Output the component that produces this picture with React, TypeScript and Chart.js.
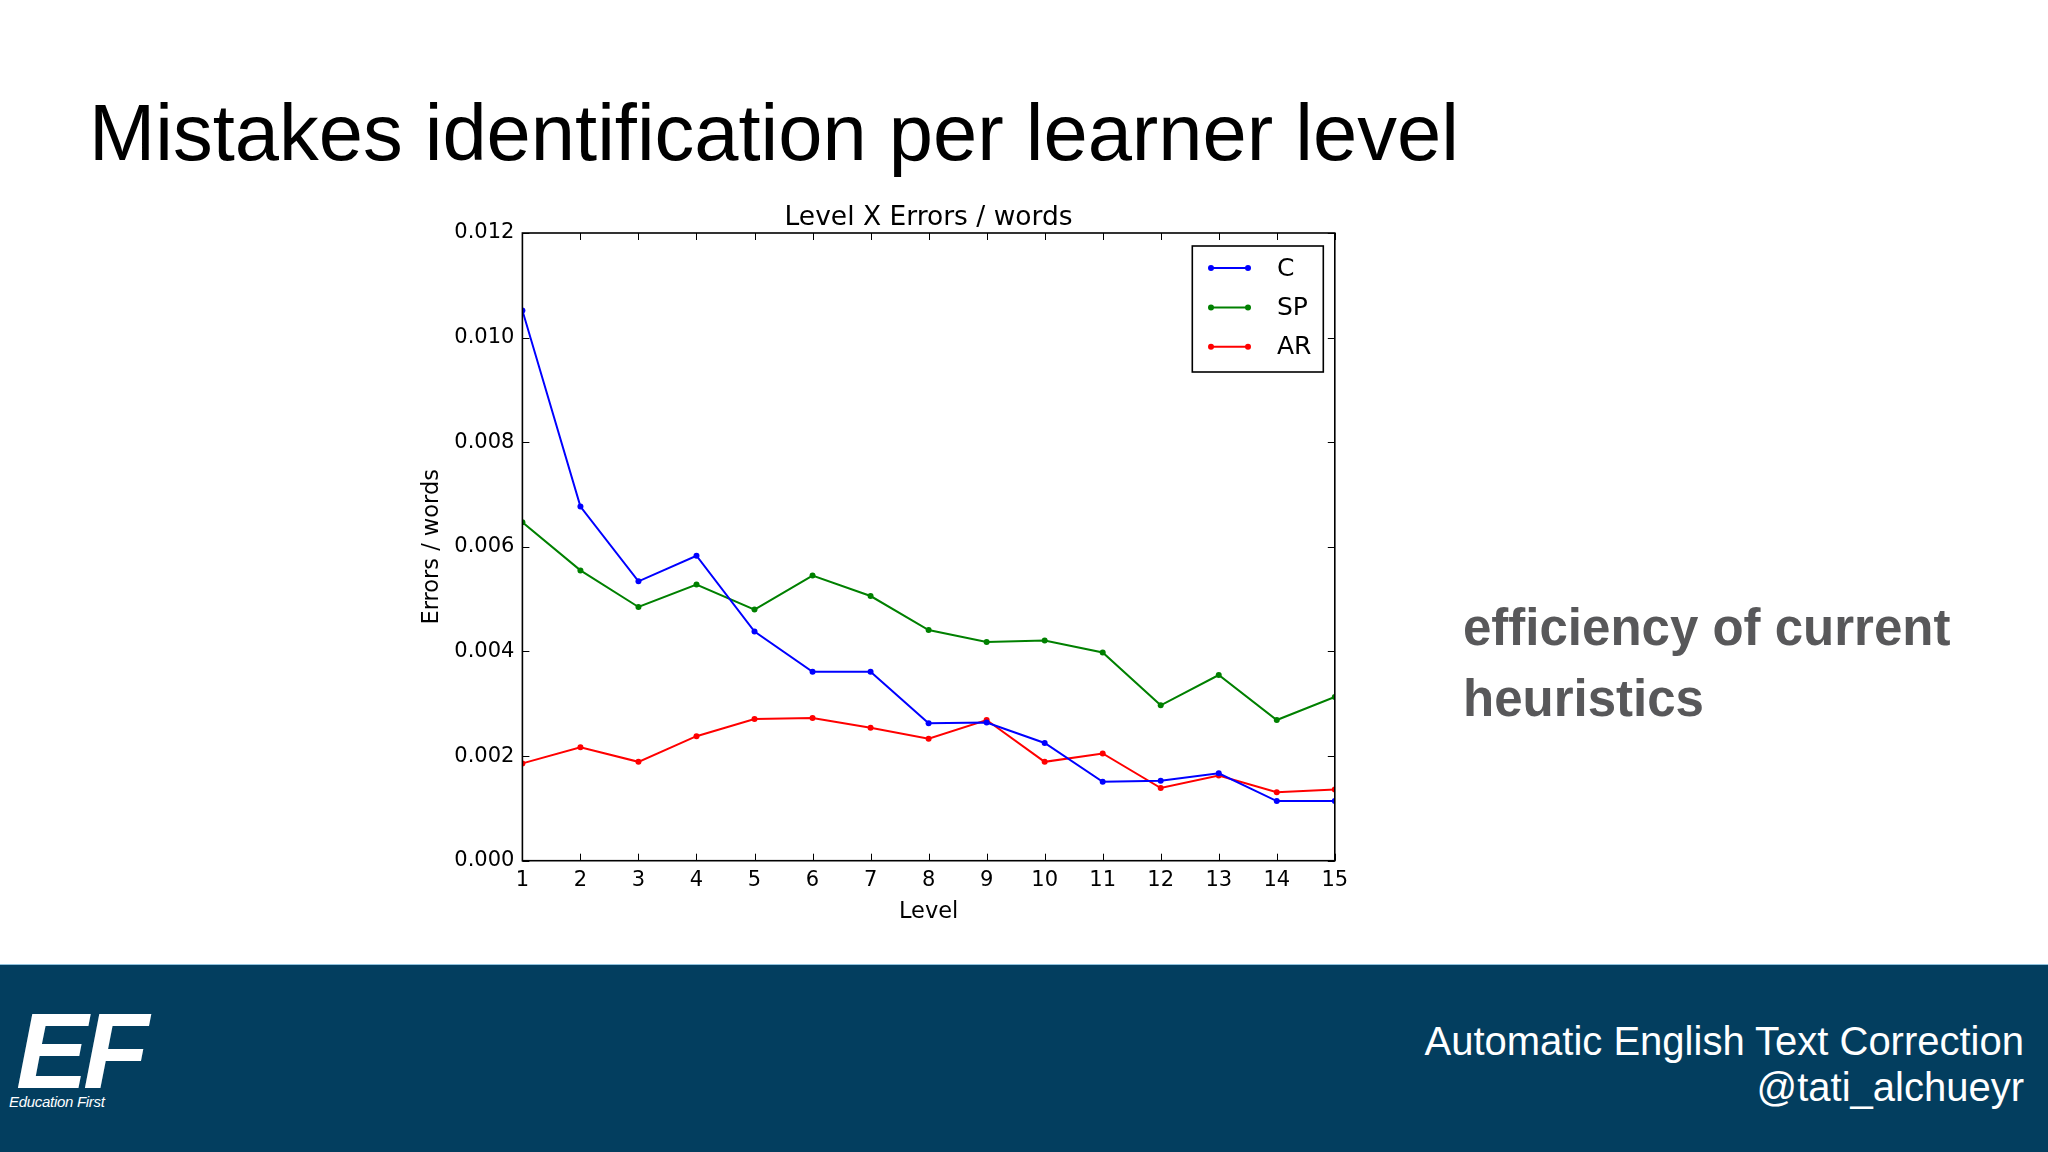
import React, { useEffect, useRef } from "react";
import { Chart, registerables } from "chart.js";

Chart.register(...registerables);

// ---- Data ----
const levels = ["1", "2", "3", "4", "5", "6", "7", "8", "9", "10", "11", "12", "13", "14", "15"];
const cValues = [0.01052, 0.00677, 0.00534, 0.00583, 0.00438, 0.00361, 0.00361, 0.00263, 0.00264, 0.00225, 0.00151, 0.00153, 0.00167, 0.00114, 0.00114];
const spValues = [0.00647, 0.00555, 0.00485, 0.00528, 0.0048, 0.00545, 0.00506, 0.00441, 0.00418, 0.00421, 0.00398, 0.00297, 0.00355, 0.00269, 0.00313];
const arValues = [0.00186, 0.00217, 0.00189, 0.00238, 0.00271, 0.00273, 0.00254, 0.00233, 0.00269, 0.00189, 0.00205, 0.00139, 0.00163, 0.00131, 0.00136];
const seriesNames = ["C", "SP", "AR"];
const seriesColors = ["#0000ff", "#008000", "#ff0000"];
const yMin = 0;
const yMax = 0.012;
const yStep = 0.002;

const chartTitle = "Level X Errors / words";
const xTitle = "Level";
const yTitle = "Errors / words";

const MPL_FONT = '"DejaVu Sans", "Liberation Sans", sans-serif';

const frameAndTicks = {
  id: "frameAndTicks",
  afterDatasetsDraw(chart: any) {
    const { ctx, chartArea } = chart;
    const { left, right, top, bottom } = chartArea;
    const xs = chart.scales.x;
    const ys = chart.scales.y;
    const len = 7;
    ctx.save();
    ctx.strokeStyle = "#000";
    ctx.lineWidth = 1;
    ctx.beginPath();
    xs.ticks.forEach((_t: any, i: number) => {
      const px = Math.round(xs.getPixelForTick(i)) + 0.5;
      ctx.moveTo(px, bottom);
      ctx.lineTo(px, bottom - len);
      ctx.moveTo(px, top);
      ctx.lineTo(px, top + len);
    });
    ys.ticks.forEach((_t: any, i: number) => {
      const py = Math.round(ys.getPixelForTick(i)) + 0.5;
      ctx.moveTo(left, py);
      ctx.lineTo(left + len, py);
      ctx.moveTo(right, py);
      ctx.lineTo(right - len, py);
    });
    ctx.stroke();
    ctx.lineWidth = 1.6;
    ctx.strokeRect(left, top, right - left, bottom - top);
    ctx.restore();
  },
};

const boxLegend = {
  id: "boxLegend",
  afterDraw(chart: any) {
    const { ctx, chartArea } = chart;
    const w = 131;
    const h = 126;
    const bx = chartArea.right - 11.5 - w;
    const by = chartArea.top + 13;
    ctx.save();
    ctx.fillStyle = "#fff";
    ctx.fillRect(bx, by, w, h);
    ctx.strokeStyle = "#000";
    ctx.lineWidth = 1.6;
    ctx.strokeRect(bx, by, w, h);
    ctx.font = `25px ${MPL_FONT}`;
    ctx.textBaseline = "middle";
    ctx.textAlign = "left";
    chart.data.datasets.forEach((ds: any, i: number) => {
      const y = by + 22 + i * 39.4;
      ctx.strokeStyle = ds.borderColor;
      ctx.fillStyle = ds.borderColor;
      ctx.lineWidth = 2;
      ctx.beginPath();
      ctx.moveTo(bx + 18.7, y);
      ctx.lineTo(bx + 55.7, y);
      ctx.stroke();
      [bx + 18.7, bx + 55.7].forEach((px) => {
        ctx.beginPath();
        ctx.arc(px, y, 3, 0, Math.PI * 2);
        ctx.fill();
      });
      ctx.fillStyle = "#000";
      ctx.fillText(ds.label, bx + 84.7, y + 1);
    });
    ctx.restore();
  },
};

function LevelChart() {
  const ref = useRef<HTMLCanvasElement | null>(null);
  useEffect(() => {
    if (!ref.current) return;
    const values = [cValues, spValues, arValues];
    const chart = new Chart(ref.current, {
      type: "line",
      data: {
        labels: levels,
        datasets: values.map((v, i) => ({
          label: seriesNames[i],
          data: v,
          borderColor: seriesColors[i],
          backgroundColor: seriesColors[i],
          borderWidth: 2,
          pointRadius: 3,
          pointHoverRadius: 3,
          pointBorderWidth: 0,
          tension: 0,
          fill: false,
          clip: 0,
        })),
      },
      options: {
        responsive: false,
        animation: false,
        devicePixelRatio: 1,
        layout: { padding: { top: 25, left: 0, right: 45.2, bottom: 0 } },
        plugins: {
          legend: { display: false },
          tooltip: { enabled: false },
          title: {
            display: true,
            fullSize: false,
            text: chartTitle,
            color: "#000",
            font: { family: MPL_FONT, size: 26.5, weight: "normal", lineHeight: 1 },
            padding: { top: 0, bottom: 1.5 },
          },
        },
        scales: {
          x: {
            type: "category",
            offset: false,
            grid: { display: false, drawTicks: false },
            border: { display: false },
            ticks: {
              color: "#000",
              font: { family: MPL_FONT, size: 21 },
              padding: 7,
              autoSkip: false,
              maxRotation: 0,
            },
            title: {
              display: true,
              text: xTitle,
              color: "#000",
              font: { family: MPL_FONT, size: 22.5 },
              padding: { top: 0, bottom: 14.4 },
            },
            afterFit: (s: any) => {
              s.height = 79.3;
            },
          },
          y: {
            type: "linear",
            min: yMin,
            max: yMax,
            grid: { display: false, drawTicks: false },
            border: { display: false },
            ticks: {
              stepSize: yStep,
              color: "#000",
              font: { family: MPL_FONT, size: 21 },
              padding: 8,
              callback: (v: any) => Number(v).toFixed(3),
            },
            title: {
              display: true,
              text: yTitle,
              color: "#000",
              font: { family: MPL_FONT, size: 22.5 },
              padding: { top: 39, bottom: 0 },
            },
            afterFit: (s: any) => {
              s.width = 142.4;
            },
          },
        },
      },
      plugins: [frameAndTicks, boxLegend],
    } as any);
    return () => chart.destroy();
  }, []);
  return <canvas ref={ref} width={1000} height={760} style={{ position: "absolute", left: 380, top: 180, width: 1000, height: 760 }} />;
}

export default function App() {
  return (
    <div
      style={{
        position: "absolute",
        left: 0,
        top: 0,
        width: 2048,
        height: 1152,
        background: "#ffffff",
        overflow: "hidden",
        fontFamily: '"Liberation Sans", Arial, sans-serif',
      }}
    >
      <div style={{ position: "absolute", left: 89, top: 93, fontSize: 79.5, lineHeight: 1, color: "#000", whiteSpace: "nowrap" }}>
        Mistakes identification per learner level
      </div>
      <LevelChart />
      <div
        style={{
          position: "absolute",
          left: 1463,
          top: 592,
          fontSize: 51,
          lineHeight: "71px",
          fontWeight: "bold",
          color: "#58585a",
          whiteSpace: "nowrap",
        }}
      >
        efficiency of current
        <br />
        heuristics
      </div>
      <div style={{ position: "absolute", left: 0, top: 964, width: 2048, height: 188, background: "#033e5f", borderTop: "1px solid #8fc1dd" }} />
      <div
        style={{
          position: "absolute",
          left: 16,
          top: 997,
          fontSize: 108,
          lineHeight: 1,
          fontWeight: "bold",
          fontStyle: "italic",
          letterSpacing: -5,
          color: "#fff",
        }}
      >
        EF
      </div>
      <div style={{ position: "absolute", left: 9, top: 1094, fontSize: 15, lineHeight: 1, fontStyle: "italic", color: "#fff", letterSpacing: -0.3 }}>
        Education First
      </div>
      <div
        style={{
          position: "absolute",
          right: 24,
          top: 1018,
          fontSize: 40,
          lineHeight: "46px",
          color: "#fff",
          textAlign: "right",
          whiteSpace: "nowrap",
        }}
      >
        Automatic English Text Correction
        <br />
        @tati_alchueyr
      </div>
    </div>
  );
}
